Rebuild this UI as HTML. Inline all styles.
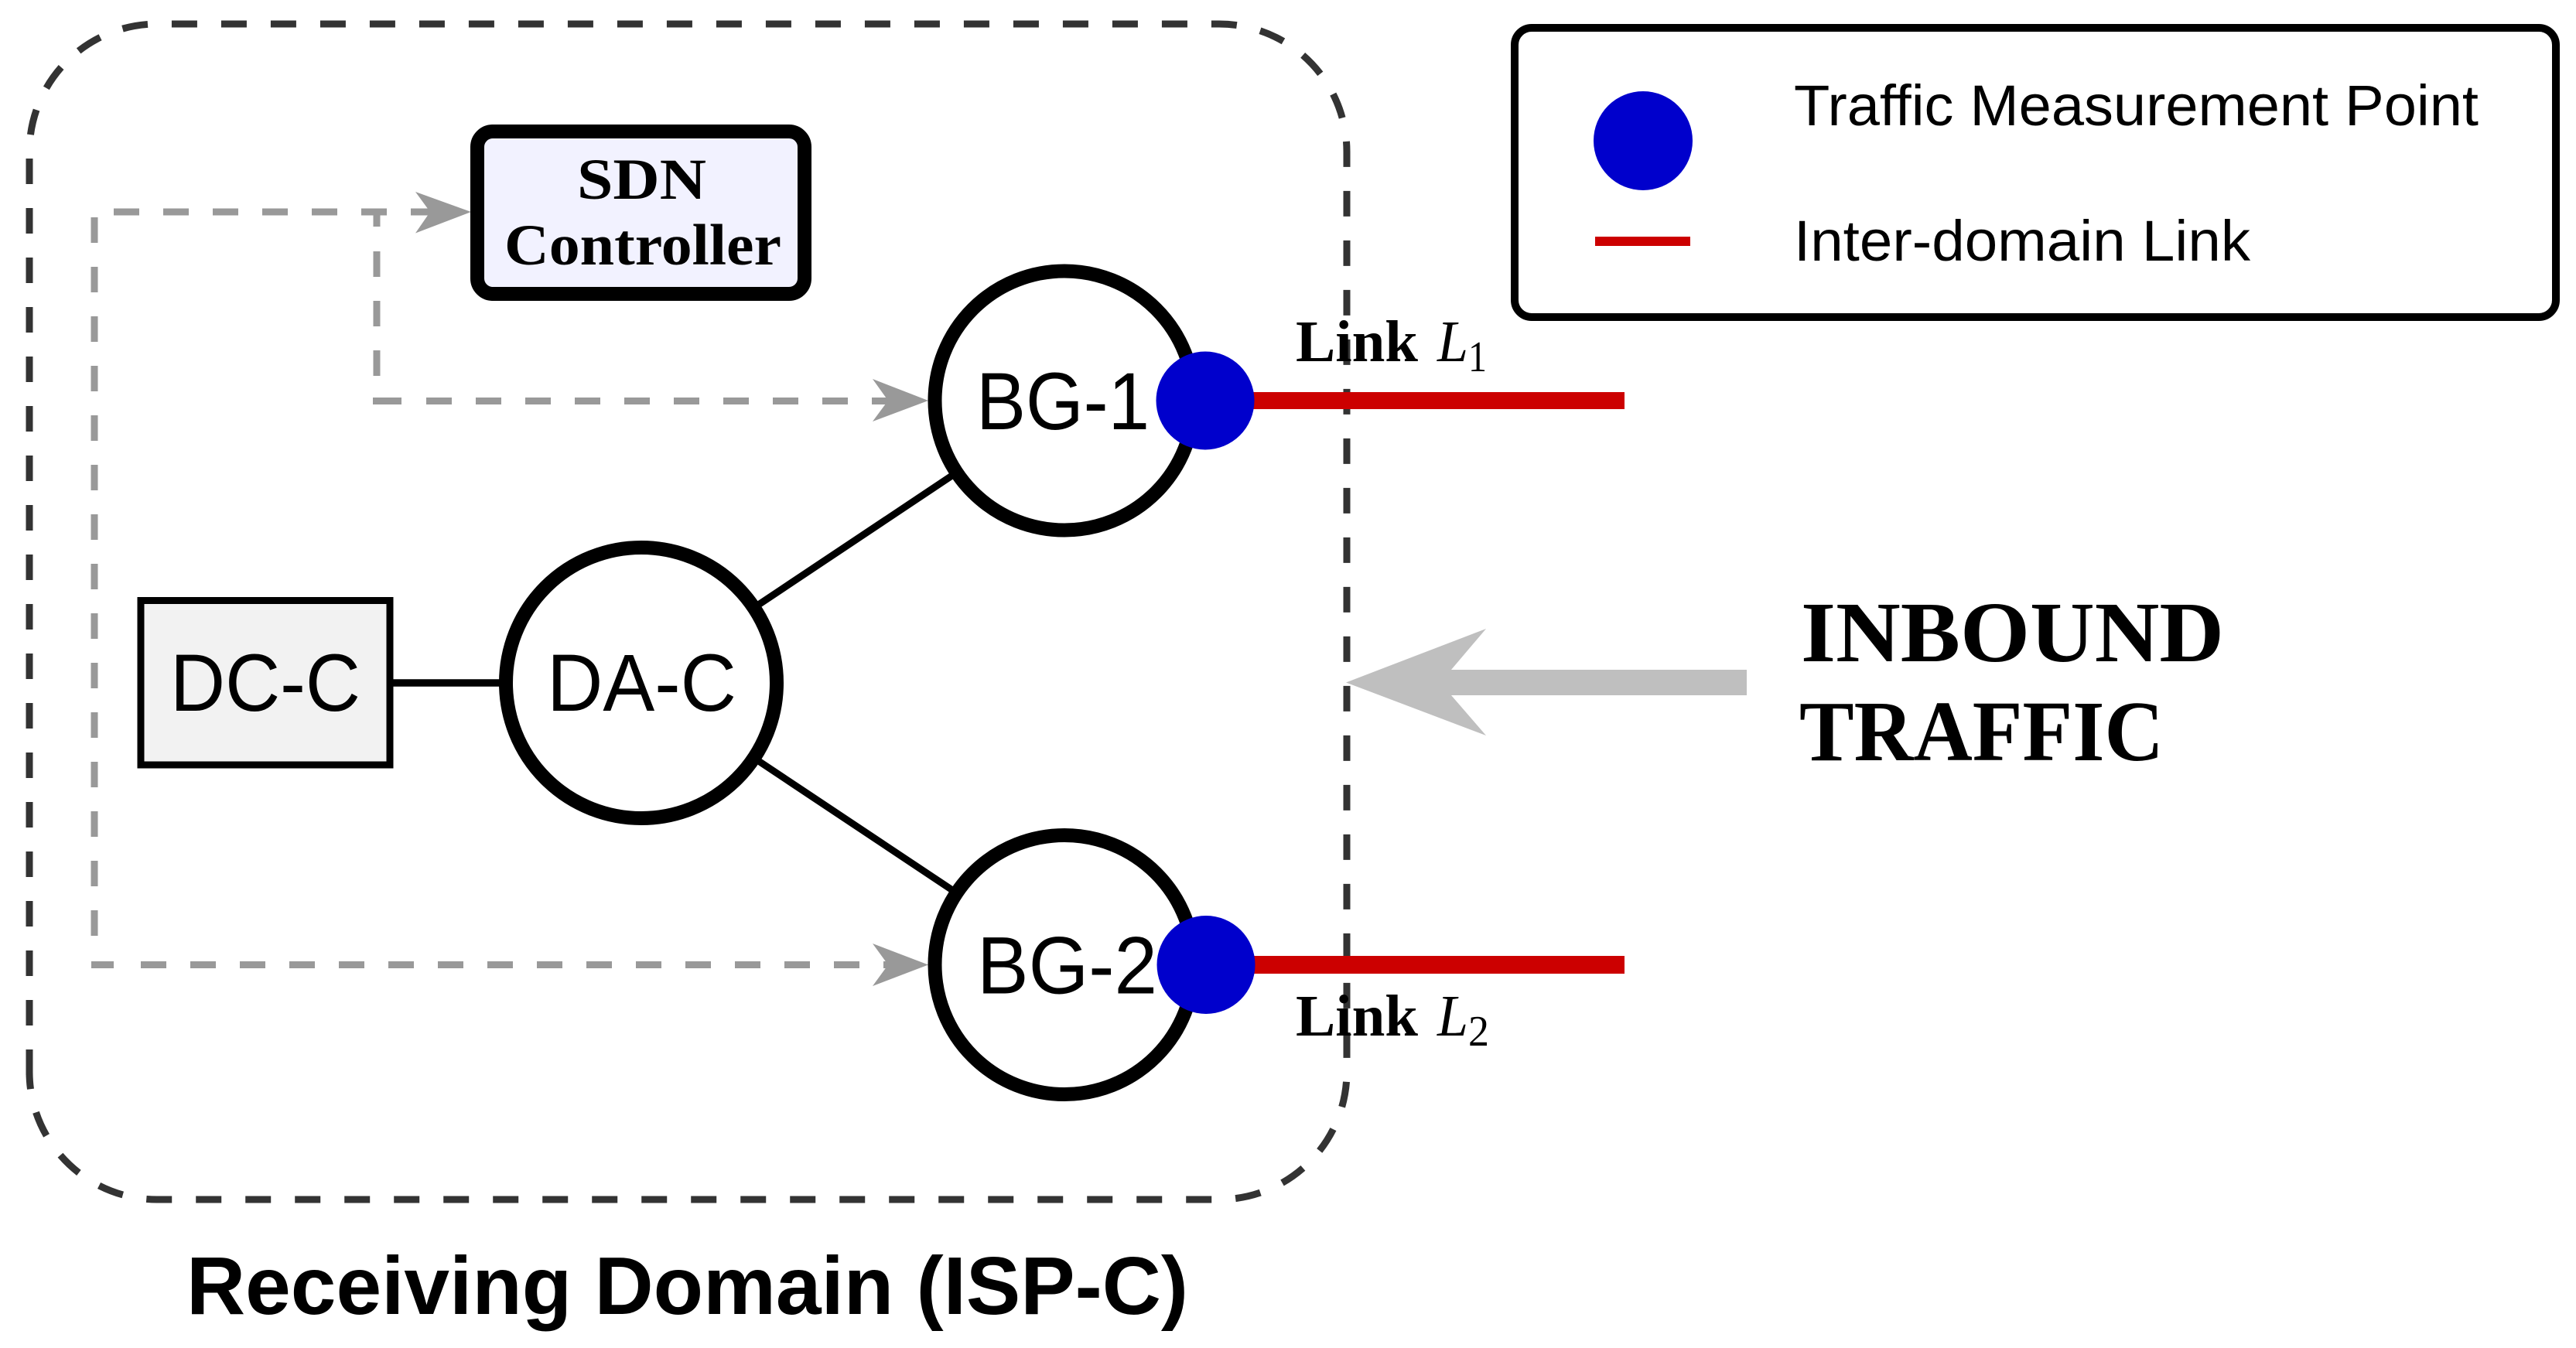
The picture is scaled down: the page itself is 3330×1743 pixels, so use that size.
<!DOCTYPE html>
<html lang="en">
<head>
<meta charset="utf-8">
<title>Receiving Domain diagram</title>
<style>
html,body{margin:0;padding:0;background:#fff;width:3330px;height:1743px;overflow:hidden}
svg{display:block}
.sans{font-family:"Liberation Sans",sans-serif}
.serif{font-family:"Liberation Serif",serif}
</style>
</head>
<body>
<svg xmlns="http://www.w3.org/2000/svg" width="3330" height="1743" viewBox="0 0 3330 1743">
<rect width="3330" height="1743" fill="#fff"/>

<!-- Outer dashed domain -->
<path d="M38 1390 V196 A165 165 0 0 1 203 31 H1576 A165 165 0 0 1 1741 196 V1386 A165 165 0 0 1 1576 1551 H203 A165 165 0 0 1 38 1386 V1390" fill="none" stroke="#333" stroke-width="9" stroke-dasharray="33 31"/>

<!-- Gray dashed control lines -->
<g fill="none" stroke="#999" stroke-width="9">
  <path d="M147 274 H556" stroke-dasharray="33 31"/>
  <path d="M122 281 V1216" stroke-dasharray="33 31"/>
  <path d="M487 275 V293" />
  <path d="M487 325 V490" stroke-dasharray="33 31"/>
  <path d="M482 518.5 H519" />
  <path d="M551 518.5 H1150" stroke-dasharray="33 31"/>
  <path d="M118 1247.5 H147" />
  <path d="M182 1247.5 H1150" stroke-dasharray="33 31"/>
</g>
<g fill="#999">
  <path d="M609 274 L537 248 L556 274 L537 301.5 Z"/>
  <path d="M1200 518 L1128 490 L1148 518 L1128 545 Z"/>
  <path d="M1200 1247.5 L1128 1220 L1148 1247.5 L1128 1275 Z"/>
</g>

<!-- Links between nodes -->
<g stroke="#000" fill="none">
  <line x1="504" y1="883" x2="660" y2="883" stroke-width="9.5"/>
  <line x1="829" y1="883" x2="1376" y2="518" stroke-width="9"/>
  <line x1="829" y1="883" x2="1376" y2="1247.5" stroke-width="9"/>
</g>

<!-- SDN controller -->
<rect x="617" y="170" width="423" height="210" rx="20" ry="20" fill="#f2f2ff" stroke="#000" stroke-width="18"/>
<text class="serif" x="746" y="257" font-size="75" font-weight="700" textLength="167" lengthAdjust="spacingAndGlyphs">SDN</text>
<text class="serif" x="652" y="342" font-size="75" font-weight="700" textLength="358" lengthAdjust="spacingAndGlyphs">Controller</text>

<!-- DC-C -->
<rect x="182" y="776.5" width="322" height="212.5" fill="#f2f2f2" stroke="#000" stroke-width="9"/>
<text class="sans" x="220" y="919" font-size="105" textLength="246" lengthAdjust="spacingAndGlyphs">DC-C</text>

<!-- DA-C -->
<circle cx="829" cy="883" r="175" fill="#fff" stroke="#000" stroke-width="18"/>
<text class="sans" x="707" y="919" font-size="105" textLength="245" lengthAdjust="spacingAndGlyphs">DA-C</text>

<!-- BG-1 -->
<circle cx="1376" cy="518" r="167.5" fill="#fff" stroke="#000" stroke-width="18"/>
<text class="sans" x="1262" y="555" font-size="105" textLength="224" lengthAdjust="spacingAndGlyphs">BG-1</text>

<!-- BG-2 -->
<circle cx="1376" cy="1247.5" r="167.5" fill="#fff" stroke="#000" stroke-width="18"/>
<text class="sans" x="1263" y="1284.5" font-size="105" textLength="233" lengthAdjust="spacingAndGlyphs">BG-2</text>

<!-- Inter-domain links and measurement points -->
<rect x="1560" y="507" width="540" height="22" fill="#cc0000"/>
<rect x="1560" y="1236" width="540" height="23" fill="#cc0000"/>
<circle cx="1558" cy="518" r="63.5" fill="#0000cc"/>
<circle cx="1559" cy="1247.5" r="63.5" fill="#0000cc"/>

<!-- Link labels -->
<text class="serif" x="1675" y="467" font-size="76" font-weight="700" textLength="158" lengthAdjust="spacingAndGlyphs">Link</text>
<text class="serif" x="1858" y="467" font-size="76" font-style="italic" textLength="40" lengthAdjust="spacingAndGlyphs">L</text>
<text class="serif" x="1898" y="480" font-size="56" textLength="24" lengthAdjust="spacingAndGlyphs">1</text>

<text class="serif" x="1675" y="1339" font-size="76" font-weight="700" textLength="158" lengthAdjust="spacingAndGlyphs">Link</text>
<text class="serif" x="1858" y="1339" font-size="76" font-style="italic" textLength="40" lengthAdjust="spacingAndGlyphs">L</text>
<text class="serif" x="1898" y="1352" font-size="56" textLength="27" lengthAdjust="spacingAndGlyphs">2</text>

<!-- Inbound arrow and label -->
<path d="M1740 882.5 L1921 813 L1876 866 H2258 V899 H1876 L1921 951 Z" fill="#bfbfbf"/>
<text class="serif" x="2328" y="855" font-size="111" font-weight="700" textLength="547" lengthAdjust="spacingAndGlyphs">INBOUND</text>
<text class="serif" x="2326" y="983" font-size="111" font-weight="700" textLength="471" lengthAdjust="spacingAndGlyphs">TRAFFIC</text>

<!-- Legend -->
<rect x="1958" y="36" width="1346" height="374" rx="22" ry="22" fill="#fff" stroke="#000" stroke-width="10"/>
<circle cx="2124" cy="182" r="64" fill="#0000cc"/>
<rect x="2062" y="306" width="123" height="12" fill="#cc0000"/>
<text class="sans" x="2319" y="162" font-size="74" textLength="885" lengthAdjust="spacingAndGlyphs">Traffic Measurement Point</text>
<text class="sans" x="2319" y="337" font-size="74" textLength="590" lengthAdjust="spacingAndGlyphs">Inter-domain Link</text>

<!-- Domain caption -->
<text class="sans" x="241" y="1699" font-size="106" font-weight="700" textLength="1295" lengthAdjust="spacingAndGlyphs">Receiving Domain (ISP-C)</text>
</svg>
</body>
</html>
